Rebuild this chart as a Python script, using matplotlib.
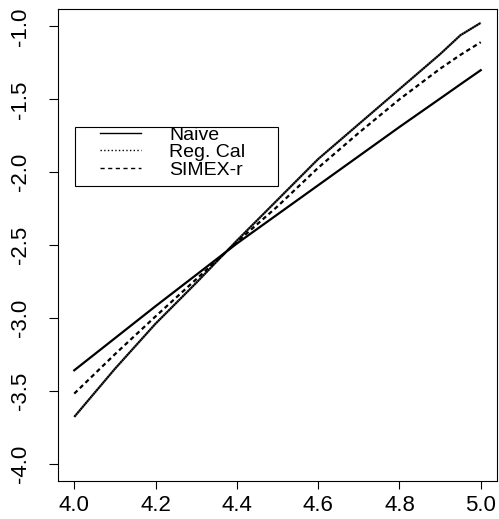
import matplotlib
matplotlib.use("Agg")
import matplotlib.pyplot as plt
from matplotlib.patches import Rectangle

# covariate grid and fitted curves for the three estimators
x_grid = [4.0, 4.1, 4.2, 4.3, 4.4, 4.5, 4.6, 4.7, 4.8, 4.9, 4.95, 5.0]
naive = [-3.36, -3.14, -2.92, -2.705, -2.49, -2.29, -2.09, -1.89, -1.69, -1.495, -1.397, -1.30]
reg_cal = [-3.68, -3.35, -3.04, -2.76, -2.47, -2.19, -1.91, -1.67, -1.43, -1.19, -1.06, -0.975]
simex_r = [-3.52, -3.25, -2.99, -2.735, -2.48, -2.235, -1.97, -1.73, -1.50, -1.29, -1.195, -1.108]

labels = ["Naive", "Reg. Cal", "SIMEX-r"]
x_ticks = [4.0, 4.2, 4.4, 4.6, 4.8, 5.0]
y_ticks = [-4.0, -3.5, -3.0, -2.5, -2.0, -1.5, -1.0]

plt.rcParams["font.family"] = ["Liberation Sans", "DejaVu Sans"]

fig = plt.figure(figsize=(4.99, 5.19), dpi=100)
ax = fig.add_axes([58 / 499, 38 / 519, 439 / 499, 472 / 519])

lw = 1.6
ax.plot(x_grid, naive, color="black", lw=lw, label=labels[0])
ax.plot(x_grid, reg_cal, color="black", lw=lw, linestyle=(0, (1, 0.1)), label=labels[1])
ax.plot(x_grid, simex_r, color="black", lw=lw, linestyle=(0, (2, 1.5)), label=labels[2])

ax.set_xlim(3.96, 5.04)
ax.set_ylim(-4.12, -0.88)
ax.set_xticks(x_ticks)
ax.set_xticklabels([f"{v:.1f}" for v in x_ticks], fontsize=16)
ax.set_yticks(y_ticks)
ax.set_yticklabels([f"{v:.1f}" for v in y_ticks], fontsize=16,
                   rotation=90, va="center", ha="right")
ax.tick_params(axis="x", direction="out", length=6, width=0.8, pad=4)
ax.tick_params(axis="y", direction="out", length=6.5, width=0.8, pad=13)
for sp in ax.spines.values():
    sp.set_linewidth(0.8)

# legend box drawn separately so the padding can be uneven
ax.add_patch(Rectangle((0.0387, 0.625), 0.4625, 0.125, transform=ax.transAxes,
                       fill=False, edgecolor="black", lw=0.8, zorder=3))
leg = ax.legend(loc="upper left", bbox_to_anchor=(0.0957, 0.752), frameon=False,
                fontsize=14, borderpad=0, borderaxespad=0, handlelength=2.1,
                handletextpad=1.45, labelspacing=0.0)
leg_lines = leg.get_lines()
leg_lines[0].set_linewidth(1.0)
leg_lines[1].set_linestyle(":")
leg_lines[1].set_linewidth(1.0)
leg_lines[2].set_linestyle((0, (3, 2.5)))
leg_lines[2].set_linewidth(1.0)

fig.savefig("out.png", dpi=100)
